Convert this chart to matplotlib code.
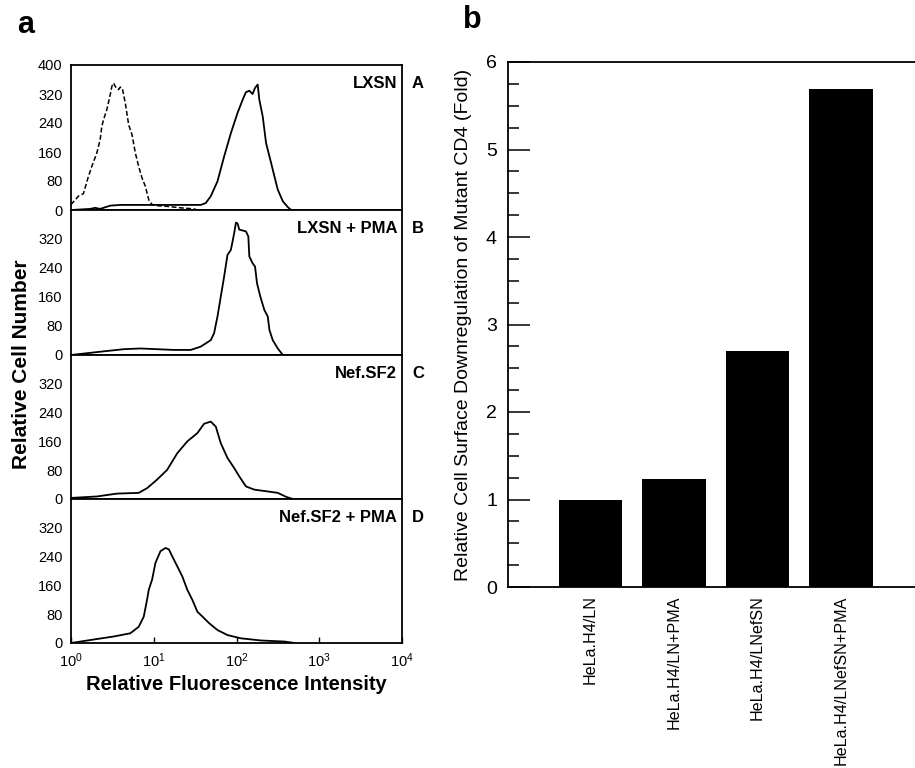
import numpy as np
import matplotlib
matplotlib.use("Agg")
import matplotlib.pyplot as plt
from matplotlib.ticker import MultipleLocator, FixedLocator

plt.rcParams['font.family'] = ['Liberation Sans', 'DejaVu Sans']
plt.rcParams['mathtext.fontset'] = 'custom'
plt.rcParams['mathtext.rm'] = 'Liberation Sans'
plt.rcParams['mathtext.it'] = 'Liberation Sans'

# ---------------- data: panel a (flow cytometry histograms) ----------------
# x given as log10(fluorescence intensity), y as relative cell number
a_dash_log = [0.00, 0.089, 0.150, 0.211, 0.251, 0.312, 0.352, 0.373, 0.393, 0.433,
              0.474, 0.494, 0.514, 0.547, 0.575, 0.595, 0.620, 0.656, 0.697, 0.737,
              0.778, 0.818, 0.859, 0.899, 0.940, 0.980, 1.041, 1.162, 1.324, 1.486, 1.527]
a_dash_val = [15, 38, 45, 93, 120, 157, 194, 231, 249, 277,
              318, 341, 350, 336, 332, 339, 336, 295, 235, 208,
              157, 120, 88, 65, 28, 15, 12, 10, 6, 3, 0]

a_solid_log = [0.00, 0.231, 0.292, 0.352, 0.474, 0.595, 0.960, 1.567, 1.628, 1.689,
               1.770, 1.851, 1.932, 2.013, 2.074, 2.114, 2.155, 2.195, 2.224, 2.256,
               2.276, 2.317, 2.357, 2.418, 2.458, 2.499, 2.560, 2.620, 2.661]
a_solid_val = [0, 3, 6, 3, 12, 14, 14, 14, 19, 38,
               79, 148, 212, 268, 304, 325, 329, 320, 337, 346,
               304, 258, 185, 130, 93, 56, 24, 8, 0]

b_log = [0.00, 0.352, 0.636, 0.838, 1.041, 1.243, 1.446, 1.567, 1.689, 1.729,
         1.770, 1.810, 1.851, 1.891, 1.932, 1.972, 1.993, 2.013, 2.033, 2.114,
         2.143, 2.155, 2.195, 2.224, 2.248, 2.288, 2.337, 2.378, 2.398, 2.438,
         2.499, 2.560]
b_val = [0, 9, 16, 18, 16, 14, 14, 23, 41, 60,
         106, 161, 217, 276, 290, 336, 365, 363, 346, 341,
         327, 272, 253, 244, 198, 161, 124, 106, 69, 41,
         18, 0]

c_log = [0.00, 0.312, 0.555, 0.818, 0.919, 1.041, 1.162, 1.284, 1.405, 1.527,
         1.608, 1.689, 1.750, 1.810, 1.891, 1.972, 2.033, 2.114, 2.215, 2.377,
         2.499, 2.600, 2.681]
c_val = [3, 7, 15, 17, 30, 54, 81, 127, 160, 183,
         209, 215, 201, 155, 114, 86, 63, 35, 26, 21,
         17, 6, 0]

d_log = [0.00, 0.312, 0.514, 0.717, 0.818, 0.879, 0.919, 0.940, 0.980, 1.021,
         1.081, 1.142, 1.183, 1.223, 1.284, 1.345, 1.405, 1.466, 1.527, 1.608,
         1.669, 1.770, 1.891, 2.053, 2.296, 2.580, 2.701]
d_val = [0, 11, 18, 27, 45, 73, 120, 148, 176, 223,
         255, 264, 260, 241, 213, 185, 148, 120, 87, 69,
         55, 36, 22, 13, 7, 4, 0]

panel_titles = ["LXSN", "LXSN + PMA", "Nef.SF2", "Nef.SF2 + PMA"]
panel_letters = ["A", "B", "C", "D"]
x_tick_labels = [r"$10^{0}$", r"$10^{1}$", r"$10^{2}$", r"$10^{3}$", r"$10^{4}$"]

# ---------------- data: panel b (bar chart) ----------------
bar_labels = ["HeLa.H4/LN", "HeLa.H4/LN+PMA", "HeLa.H4/LNefSN", "HeLa.H4/LNefSN+PMA"]
bar_values = [1.0, 1.23, 2.70, 5.69]

# ---------------- figure ----------------
W, H = 915, 768
fig = plt.figure(figsize=(W / 100, H / 100), dpi=100)


def fx(px):
    return px / W


def fy(py):
    return 1 - py / H


left_a, right_a = 71, 402
bounds = [65, 210, 355, 499, 643]
solid_sets = [(a_solid_log, a_solid_val), (b_log, b_val), (c_log, c_val), (d_log, d_val)]

for i in range(4):
    top, bot = bounds[i], bounds[i + 1]
    ax = fig.add_axes([fx(left_a), fy(bot), fx(right_a - left_a), (bot - top) / H])
    ax.set_xscale('log')
    ax.set_xlim(1, 1e4)
    ax.set_ylim(0, 400)
    lg, vl = solid_sets[i]
    ax.plot(10 ** np.array(lg), vl, color='black', lw=1.3)
    if i == 0:
        ax.plot(10 ** np.array(a_dash_log), a_dash_val, color='black', lw=1.1,
                linestyle=(0, (3.2, 1.6)))
        ax.set_yticks([0, 80, 160, 240, 320, 400])
    else:
        ax.set_yticks([0, 80, 160, 240, 320])
    ax.tick_params(axis='y', length=0, pad=6, labelsize=10.5)
    for s in ax.spines.values():
        s.set_linewidth(1.3)
    ax.text(0.985, 0.87, panel_titles[i], transform=ax.transAxes, ha='right', va='center',
            fontsize=12, fontweight='bold')
    ax.text(1.048, 0.87, panel_letters[i], transform=ax.transAxes, ha='center', va='center',
            fontsize=12, fontweight='bold')
    ax.xaxis.set_minor_locator(FixedLocator([]))
    if i < 3:
        ax.tick_params(axis='x', which='both', length=0, labelbottom=False)
    else:
        ax.xaxis.set_major_locator(FixedLocator([1, 10, 100, 1000, 10000]))
        ax.set_xticklabels(x_tick_labels)
        ax.tick_params(axis='x', which='major', direction='in', length=4, width=1,
                       labelsize=10.5, pad=6)
        ax.set_xlabel("Relative Fluorescence Intensity", fontsize=14.5, fontweight='bold',
                      labelpad=4)

fig.text(fx(22), fy(364), "Relative Cell Number", rotation=90, ha='center', va='center',
         fontsize=15, fontweight='bold')
fig.text(fx(26), fy(25), "a", ha='center', va='center', fontsize=22, fontweight='bold')

# ---------------- panel b ----------------
bl, bb, bt = 508, 587, 62
axb = fig.add_axes([fx(bl), fy(bb), fx(W - bl) + 0.01, (bb - bt) / H])
x = np.arange(len(bar_values))
axb.bar(x, bar_values, width=0.76, color='black')
axb.set_xlim(-0.988, 3.886 + 0.01 * W / 83.5)
axb.set_ylim(0, 6)
axb.spines['right'].set_visible(False)
for s in axb.spines.values():
    s.set_linewidth(1.3)
axb.yaxis.set_major_locator(MultipleLocator(1))
axb.yaxis.set_minor_locator(MultipleLocator(0.25))
axb.tick_params(axis='y', which='major', direction='in', length=16, width=1.1,
                labelsize=14, pad=8)
axb.tick_params(axis='y', which='minor', direction='in', length=8, width=1.1)
axb.set_xticks(x)
axb.set_xticklabels(bar_labels, rotation=90, fontsize=11.6)
axb.tick_params(axis='x', length=0, pad=6)
axb.set_ylabel("Relative Cell Surface Downregulation of Mutant CD4 (Fold)",
               fontsize=14, labelpad=10)

fig.text(fx(472), fy(20), "b", ha='center', va='center', fontsize=22, fontweight='bold')

fig.savefig("out.png", dpi=100)
